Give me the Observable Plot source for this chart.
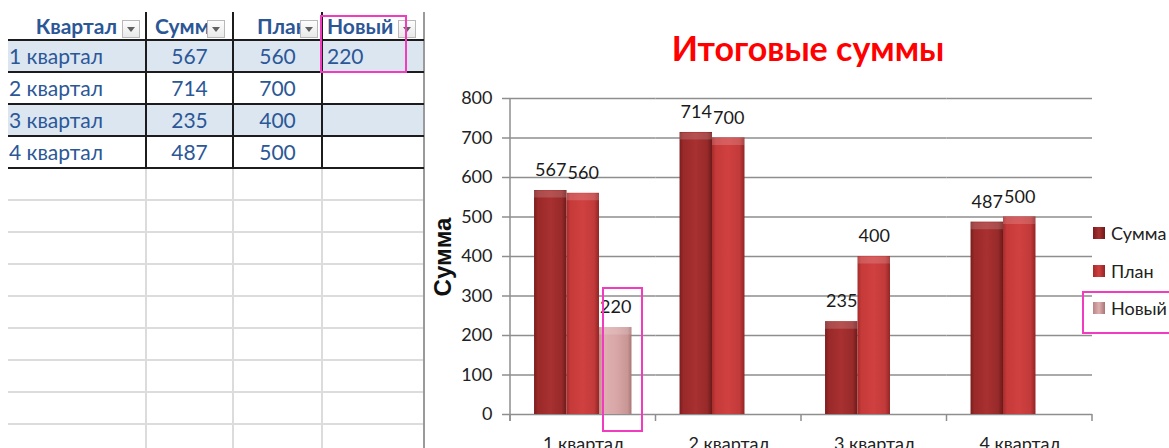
<!DOCTYPE html>
<html><head><meta charset="utf-8">
<script src="https://cdn.jsdelivr.net/npm/d3@7"></script>
<script src="https://cdn.jsdelivr.net/npm/@observablehq/plot@0.6"></script>
<style>
html,body{margin:0;padding:0;width:1169px;height:448px;overflow:hidden;background:#fff;}
body{position:relative;font-family:Lato,sans-serif}
.abs{position:absolute}
.cell{position:absolute;height:32px;line-height:32px;font-size:21px;color:#2b5797;white-space:nowrap;overflow:visible}
.hdr{position:absolute;font-size:21px;font-weight:bold;color:#2b5797;white-space:nowrap;line-height:28px}
.btn{position:absolute;width:16px;height:16px;border:1px solid #b9b9b9;background:linear-gradient(#fdfdfd,#e9e9e9);}
.btn:after{content:"";position:absolute;left:4px;top:6px;border-left:4px solid transparent;border-right:4px solid transparent;border-top:5px solid #606060}
.pink{position:absolute;border:2px solid #f23cbf;box-sizing:border-box}
.lg{position:absolute;font-size:18px;color:#222;white-space:nowrap;line-height:20px}
.sw{position:absolute;width:12px;height:12px}
</style></head><body>
<div id="sheet" class="abs" style="left:0;top:0;width:430px;height:448px"></div>
<div id="chart" class="abs" style="left:420px;top:80px"></div>
<div id="title" class="abs" style="left:808px;top:27px;transform:translateX(-50%);font-size:34px;font-weight:bold;color:#ff0000;white-space:nowrap;line-height:42px">Итоговые суммы</div>
<div id="ylabel" class="abs" style="left:443px;top:257px;transform:translate(-50%,-50%) rotate(-90deg);font-family:'Liberation Sans',Arial,sans-serif;font-size:24px;font-weight:bold;color:#111;white-space:nowrap">Сумма</div>
<div id="legend"></div>
<script>
// ---- data ----
const quarters = ["1 квартал", "2 квартал", "3 квартал", "4 квартал"];
const series = ["Сумма", "План", "Новый"];
const sumValues = [567, 714, 235, 487];
const planValues = [560, 700, 400, 500];
const newValues = [220, null, null, null];
const headers = ["Квартал", "Сумма", "План", "Новый"];
const yTicks = [0, 100, 200, 300, 400, 500, 600, 700, 800];

// ---- spreadsheet (left) ----
const sheet = d3.select("#sheet");
const top0 = 40, rh = 32;
for (let y = 168 + rh; y < 448; y += rh) {
  sheet.append("div").attr("class", "abs").style("left", "8px").style("top", (y - 1) + "px").style("width", "416px").style("height", "2px").style("background", "#dcdcdc");
}
[146, 233, 322].forEach(x => sheet.append("div").attr("class", "abs").style("left", (x - 1) + "px").style("top", "168px").style("width", "2px").style("height", "280px").style("background", "#dcdcdc"));
sheet.append("div").attr("class", "abs").style("left", "423px").style("top", "12px").style("width", "2px").style("height", "436px").style("background", "#9a9a9a");
quarters.forEach((q, i) => {
  if (i % 2 === 0) sheet.append("div").attr("class", "abs").style("left", "8px").style("top", (top0 + i * rh) + "px").style("width", "415px").style("height", rh + "px").style("background", "#dce6f1");
});
for (let i = 0; i <= quarters.length; i++) {
  sheet.append("div").attr("class", "abs").style("left", "8px").style("top", (top0 + i * rh - 1) + "px").style("width", "416px").style("height", "2px").style("background", "#1c1c1c");
}
[146, 233, 322].forEach(x => sheet.append("div").attr("class", "abs").style("left", (x - 1) + "px").style("top", "12px").style("width", "2px").style("height", "157px").style("background", "#1c1c1c"));
const hdrLeft = [null, 155, 257, 327];
headers.forEach((h, j) => {
  const d = sheet.append("div").attr("class", "hdr").style("top", "12px").text(h);
  if (j === 0) d.style("right", (430 - 117) + "px");
  else d.style("left", hdrLeft[j] + "px");
});
[122, 207, 300, 398].forEach(x => sheet.append("div").attr("class", "btn").style("left", x + "px").style("top", "20px"));
quarters.forEach((q, i) => {
  const y = top0 + i * rh;
  sheet.append("div").attr("class", "cell").style("left", "9px").style("top", y + "px").text(q);
  sheet.append("div").attr("class", "cell").style("left", "146px").style("width", "87px").style("text-align", "center").style("top", y + "px").text(sumValues[i]);
  sheet.append("div").attr("class", "cell").style("left", "233px").style("width", "89px").style("text-align", "center").style("top", y + "px").text(planValues[i]);
  if (newValues[i] != null) sheet.append("div").attr("class", "cell").style("left", "327px").style("top", y + "px").text(newValues[i]);
});
d3.select("body").append("div").attr("class", "pink").style("left", "320px").style("top", "15px").style("width", "87px").style("height", "58px");

// ---- chart ----
const rows = [];
quarters.forEach((q, i) => {
  [[series[0], sumValues[i]], [series[1], planValues[i]], [series[2], newValues[i]]].forEach(([s, v]) => {
    if (v != null) rows.push({quarter: q, series: s, value: v});
  });
});
const gray = "#8e8e8e";
const chart = Plot.plot({
  width: 749, height: 368,
  marginLeft: 90, marginRight: 77, marginTop: 18, marginBottom: 34,
  style: {fontFamily: "Lato, sans-serif", fontSize: "18px", color: "#222", background: "transparent", overflow: "visible"},
  fx: {domain: quarters, padding: 0, round: false, label: null},
  x: {domain: series, paddingInner: 0, paddingOuter: 0.74, round: false, axis: null},
  y: {domain: [0, 800], label: null},
  color: {domain: series, range: ["url(#gSum)", "url(#gPlan)", "url(#gNew)"]},
  marks: [
    Plot.gridY(yTicks, {stroke: gray, strokeOpacity: 1, strokeWidth: 1.5}),
    Plot.axisY(yTicks, {anchor: "left", tickSize: 8, tickPadding: 10, stroke: gray, strokeWidth: 1.5, label: null, fontSize: 18}),
    Plot.axisFx({anchor: "bottom", tickSize: 0, tickPadding: 23, label: null, fontSize: 18}),
    Plot.barY(rows, {fx: "quarter", x: "series", y: "value", fill: "series"}),
    Plot.tickY(rows, {fx: "quarter", x: "series", y: "value", stroke: "#fff", strokeOpacity: 0.16, strokeWidth: 7, dy: 3.5}),
    Plot.text(rows, {fx: "quarter", x: "series", y: "value", text: d => String(d.value), dy: -20, fontSize: 18, fill: "#1a1a1a"})
  ]
});
document.getElementById("chart").appendChild(chart);

const svg = d3.select(chart);
const defs = svg.insert("defs", ":first-child");
function grad(id, stops) {
  const g = defs.append("linearGradient").attr("id", id).attr("x1", 0).attr("x2", 1).attr("y1", 0).attr("y2", 0);
  stops.forEach(([o, c]) => g.append("stop").attr("offset", o).attr("stop-color", c));
}
grad("gSum", [[0, "#7a1d1d"], [0.12, "#9a2929"], [0.5, "#a83030"], [0.85, "#982a2a"], [1, "#6c1919"]]);
grad("gPlan", [[0, "#a52b2b"], [0.12, "#c63a3a"], [0.5, "#d04040"], [0.85, "#c23a3a"], [1, "#932424"]]);
grad("gNew", [[0, "#c18c8c"], [0.15, "#deb0b0"], [0.55, "#d8a6a6"], [0.88, "#c99696"], [1, "#a97474"]]);

const fxs = chart.scale("fx"), ys = chart.scale("y");
const [r0, r1] = fxs.range;
const step = (r1 - r0) / fxs.domain.length;
const yPix = v => ys.range[0] + (v - ys.domain[0]) / (ys.domain[1] - ys.domain[0]) * (ys.range[1] - ys.range[0]);
const ax = svg.append("g").attr("stroke", gray).attr("stroke-width", 1.5);
ax.append("line").attr("x1", r0).attr("x2", r0).attr("y1", yPix(800)).attr("y2", yPix(0) + 7);
d3.range(fxs.domain.length + 1).forEach(i => ax.append("line").attr("x1", r0 + i * step).attr("x2", r0 + i * step).attr("y1", yPix(0)).attr("y2", yPix(0) + 7));

// ---- legend ----
const lgColors = {"Сумма": "linear-gradient(90deg,#7a1d1d,#a83030 50%,#6c1919)", "План": "linear-gradient(90deg,#a52b2b,#d04040 50%,#932424)", "Новый": "linear-gradient(90deg,#b98484,#deb0b0 50%,#a97474)"};
const legend = d3.select("#legend");
series.forEach((s, i) => {
  const cy = 233 + i * 37.5;
  legend.append("div").attr("class", "sw").style("left", "1093px").style("top", (cy - 6) + "px").style("background", lgColors[s]);
  legend.append("div").attr("class", "lg").style("left", "1111px").style("top", (cy - 10) + "px").text(s);
});
d3.select("body").append("div").attr("class", "pink").style("left", "602px").style("top", "287px").style("width", "41px").style("height", "145px");
d3.select("body").append("div").attr("class", "pink").style("left", "1082px").style("top", "291px").style("width", "120px").style("height", "43px");
</script>
</body></html>
